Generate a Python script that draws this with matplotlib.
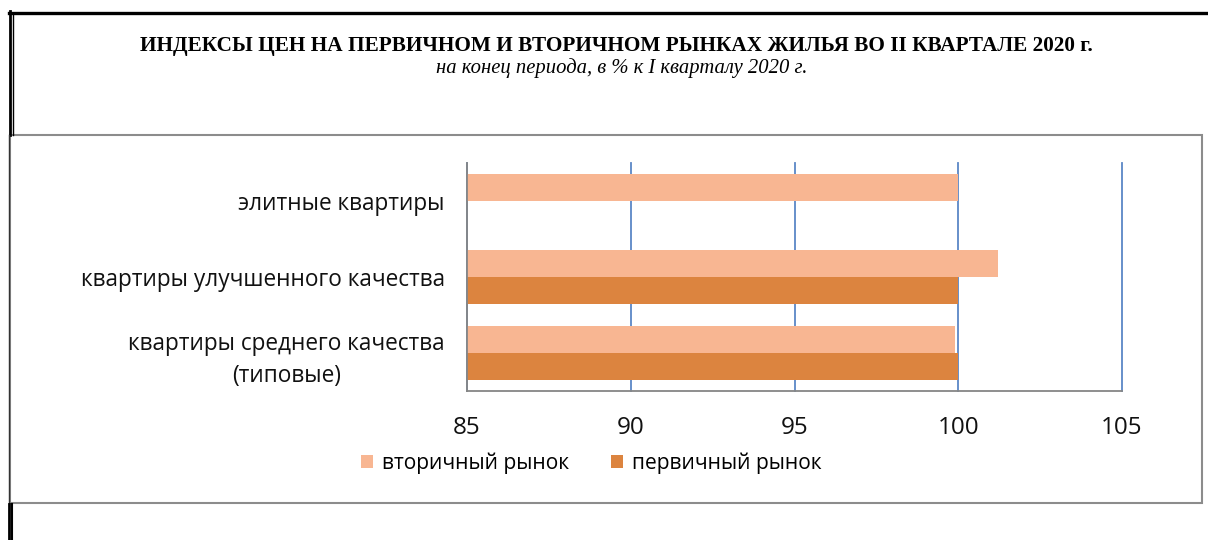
import numpy as np
import matplotlib
matplotlib.use('Agg')
import matplotlib.pyplot as plt
from matplotlib.patches import Rectangle
from matplotlib.lines import Line2D

# data
categories = ['элитные квартиры', 'квартиры улучшенного качества', 'квартиры среднего качества\n(типовые)']
secondary = [100.0, 101.2, 99.9]     # вторичный рынок
primary = [np.nan, 100.0, 100.0]     # первичный рынок (нет данных по элитным)
series_names = ['вторичный рынок', 'первичный рынок']
x_ticks = [85, 90, 95, 100, 105]

title = 'ИНДЕКСЫ ЦЕН НА ПЕРВИЧНОМ И ВТОРИЧНОМ РЫНКАХ ЖИЛЬЯ ВО II КВАРТАЛЕ 2020 г.'
subtitle = 'на конец периода, в % к I кварталу 2020 г.'

light = '#F8B692'
dark = '#DC843F'
grid_col = '#5B87C6'
W, H = 1208, 540

plt.rcParams['font.family'] = ['Open Sans', 'DejaVu Sans']

fig = plt.figure(figsize=(W / 100, H / 100), dpi=100)

def fx(px):
    return px / W

def fy(py):
    return 1 - py / H

# frame decorations (black document border + grey chart box)
fig.add_artist(Rectangle((fx(10), fy(503)), fx(1202) - fx(10), fy(135) - fy(503),
                         transform=fig.transFigure, fill=False, edgecolor='#8C8C8C', lw=1.5))
fig.add_artist(Line2D([fx(9), 1], [fy(12.5), fy(12.5)], transform=fig.transFigure, color='black', lw=2.4))
fig.add_artist(Line2D([fx(9.5), fx(9.5)], [fy(11), fy(135)], transform=fig.transFigure, color='black', lw=2.0))
fig.add_artist(Line2D([fx(12.5), fx(12.5)], [fy(14), fy(135)], transform=fig.transFigure, color='black', lw=1.0))
fig.add_artist(Line2D([fx(8.5), fx(8.5)], [fy(135), fy(503)], transform=fig.transFigure, color='#333333', lw=1.0))
fig.add_artist(Line2D([fx(9), fx(9)], [fy(504), 0], transform=fig.transFigure, color='black', lw=2.0))
fig.add_artist(Line2D([fx(12), fx(12)], [fy(504), 0], transform=fig.transFigure, color='black', lw=1.5))

fig.text(fx(616), fy(46), title, ha='center', va='center', family='Liberation Serif',
         fontweight='bold', fontsize=15.3)
fig.text(fx(622), fy(68), subtitle, ha='center', va='center', family='Liberation Serif',
         style='italic', fontsize=14.9)

ax = fig.add_axes([fx(467), fy(391), fx(1122) - fx(467), fy(163) - fy(391)])

y = np.arange(len(categories))[::-1]
h = 0.36
ax.barh(y + h / 2, secondary, height=h, color=light, label=series_names[0], zorder=3)
ax.barh(y - h / 2, primary, height=h, color=dark, label=series_names[1], zorder=3)

ax.set_xlim(85, 105)
ax.set_ylim(-0.5, 2.5)
ax.set_xticks(x_ticks)
ax.set_yticks(y)
ax.set_yticklabels(categories, multialignment='center', linespacing=1.45)
ax.grid(axis='x', color=grid_col, lw=1.3, zorder=1)
for gl in ax.get_xgridlines():
    gl.set_clip_on(False)
ax.set_axisbelow(True)
for s in ['top', 'right']:
    ax.spines[s].set_visible(False)
for s in ['left', 'bottom']:
    ax.spines[s].set_color('#868686')
    ax.spines[s].set_linewidth(1.3)
    ax.spines[s].set_zorder(4)
ax.tick_params(axis='y', length=0, pad=16, labelsize=16.3, labelcolor='#111111')
ax.tick_params(axis='x', length=0, pad=18, labelsize=17.5, labelcolor='#111111')

handles, labels = ax.get_legend_handles_labels()
fig.legend(handles, labels, loc='center', bbox_to_anchor=(fx(591), fy(463)), ncol=2,
           frameon=False, fontsize=15.1, handlelength=0.6, handleheight=0.6,
           handletextpad=0.4, columnspacing=2.0)

fig.savefig('out.png', dpi=100)
